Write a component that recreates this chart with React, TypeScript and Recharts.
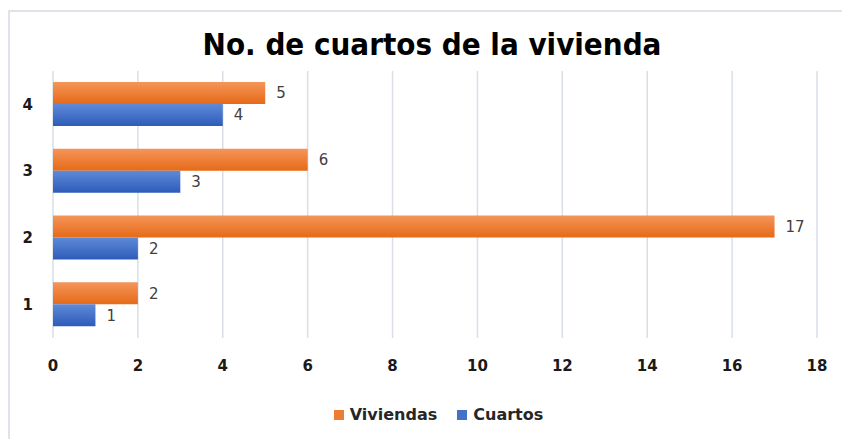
import React from 'react';
import { BarChart, Bar, XAxis, YAxis, CartesianGrid, LabelList, Legend } from 'recharts';

const categories = ['1', '2', '3', '4'];
const viviendas = [2, 17, 6, 5];
const cuartos = [1, 2, 3, 4];
const xTicks = [0, 2, 4, 6, 8, 10, 12, 14, 16, 18];

const data = categories.map((c, i) => ({ name: c, Viviendas: viviendas[i], Cuartos: cuartos[i] }));

const FONT = "'DejaVu Sans', Verdana, sans-serif";

const LegendContent = () => (
  <div style={{ display: 'flex', justifyContent: 'center', paddingLeft: 50, fontFamily: FONT, fontWeight: 'bold', fontSize: 16, color: '#262626' }}>
    <span style={{ display: 'flex', alignItems: 'center', marginRight: 20 }}>
      <span style={{ width: 10, height: 10, background: '#ED7D31', marginRight: 6, display: 'inline-block' }} />
      Viviendas
    </span>
    <span style={{ display: 'flex', alignItems: 'center' }}>
      <span style={{ width: 10, height: 10, background: '#4472C4', marginRight: 6, display: 'inline-block' }} />
      Cuartos
    </span>
  </div>
);

const App: React.FC = () => {
  return (
    <div style={{ position: 'absolute', left: 0, top: 0, width: 842, height: 439, background: '#fff', overflow: 'hidden' }}>
      <div style={{ position: 'absolute', left: 8, top: 10, width: 900, height: 500, border: '2px solid #dfe3ea', boxSizing: 'border-box' }} />
      <div
        style={{
          position: 'absolute', left: 0, top: 26, width: 864, textAlign: 'center',
          fontFamily: "'Liberation Sans Narrow', 'DejaVu Sans Condensed', sans-serif", fontWeight: 'bold', fontSize: 31, color: '#000',
        }}
      >
        No. de cuartos de la vivienda
      </div>
      <div style={{ position: 'absolute', left: 0, top: 0 }}>
        <BarChart
          width={842}
          height={439}
          data={data}
          layout="vertical"
          margin={{ top: 71, right: 25, left: 10, bottom: 27 }}
          barSize={22}
          barGap={0}
        >
          <defs>
            <linearGradient id="gradOrange" x1="0" y1="0" x2="0" y2="1">
              <stop offset="0%" stopColor="#F5955A" />
              <stop offset="100%" stopColor="#E56A17" />
            </linearGradient>
            <linearGradient id="gradBlue" x1="0" y1="0" x2="0" y2="1">
              <stop offset="0%" stopColor="#5F8AD9" />
              <stop offset="100%" stopColor="#2D5BB8" />
            </linearGradient>
          </defs>
          <CartesianGrid horizontal={false} stroke="#d9dee7" strokeWidth={1.5} />
          <XAxis
            type="number"
            domain={[0, 18]}
            ticks={xTicks}
            axisLine={false}
            tickLine={false}
            tickMargin={16}
            height={40}
            tick={{ fill: '#1a1a1a', fontSize: 15, fontWeight: 'bold', fontFamily: FONT }}
          />
          <YAxis
            type="category"
            dataKey="name"
            reversed
            width={43}
            axisLine={false}
            tickLine={false}
            tickMargin={14}
            tick={{ fill: '#1a1a1a', fontSize: 15, fontWeight: 'bold', fontFamily: FONT }}
          />
          <Legend
            verticalAlign="bottom"
            height={34}
            content={<LegendContent />}
            wrapperStyle={{ top: 405, bottom: 'auto' }}
          />
          <Bar dataKey="Viviendas" fill="url(#gradOrange)" isAnimationActive={false}>
            <LabelList dataKey="Viviendas" position="right" offset={11} fill="#404040" fontSize={15} fontFamily={FONT} />
          </Bar>
          <Bar dataKey="Cuartos" fill="url(#gradBlue)" isAnimationActive={false}>
            <LabelList dataKey="Cuartos" position="right" offset={11} fill="#404040" fontSize={15} fontFamily={FONT} />
          </Bar>
        </BarChart>
      </div>
    </div>
  );
};

export default App;
